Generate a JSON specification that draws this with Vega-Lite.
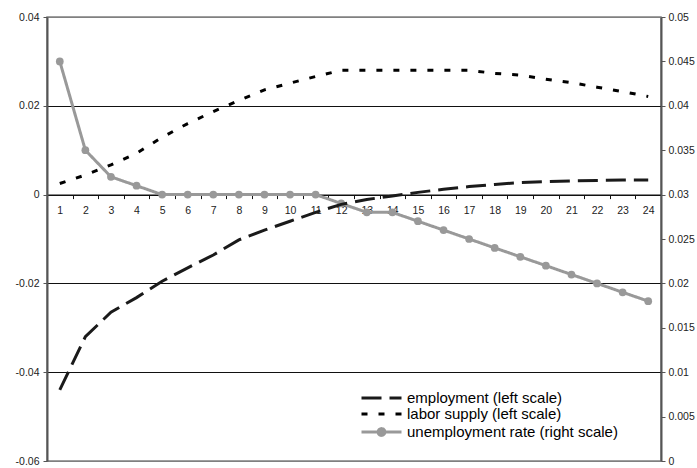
{
  "$schema": "https://vega.github.io/schema/vega-lite/v6.json",
  "autosize": "none",
  "width": 614,
  "height": 444,
  "padding": {"left": 47, "top": 17, "right": 36, "bottom": 7},
  "background": "white",
  "config": {
    "font": "Liberation Sans",
    "view": {"stroke": "#808080", "strokeWidth": 1.5},
    "axis": {"labelFont": "Liberation Sans", "labelColor": "#222", "labelFontSize": 10.5, "title": null},
    "legend": {
      "title": null, "orient": "none", "legendX": 326.5, "legendY": 373,
      "labelFontSize": 15, "labelColor": "#000", "labelFont": "Liberation Sans", "labelLimit": 0,
      "symbolSize": 169, "symbolStrokeWidth": 3, "labelOffset": 17.5, "rowPadding": 0, "padding": 0
    }
  },
  "datasets": {
    "left": [
      {"t": 1, "series": "employment (left scale)", "value": -0.044},
      {"t": 2, "series": "employment (left scale)", "value": -0.032},
      {"t": 3, "series": "employment (left scale)", "value": -0.0265},
      {"t": 4, "series": "employment (left scale)", "value": -0.0232},
      {"t": 5, "series": "employment (left scale)", "value": -0.0195},
      {"t": 6, "series": "employment (left scale)", "value": -0.0165},
      {"t": 7, "series": "employment (left scale)", "value": -0.0136},
      {"t": 8, "series": "employment (left scale)", "value": -0.0102},
      {"t": 9, "series": "employment (left scale)", "value": -0.008},
      {"t": 10, "series": "employment (left scale)", "value": -0.006},
      {"t": 11, "series": "employment (left scale)", "value": -0.004},
      {"t": 12, "series": "employment (left scale)", "value": -0.0022},
      {"t": 13, "series": "employment (left scale)", "value": -0.0011},
      {"t": 14, "series": "employment (left scale)", "value": -0.0003},
      {"t": 15, "series": "employment (left scale)", "value": 0.0005},
      {"t": 16, "series": "employment (left scale)", "value": 0.0012},
      {"t": 17, "series": "employment (left scale)", "value": 0.0018},
      {"t": 18, "series": "employment (left scale)", "value": 0.0023},
      {"t": 19, "series": "employment (left scale)", "value": 0.0027},
      {"t": 20, "series": "employment (left scale)", "value": 0.0029},
      {"t": 21, "series": "employment (left scale)", "value": 0.0031},
      {"t": 22, "series": "employment (left scale)", "value": 0.0032},
      {"t": 23, "series": "employment (left scale)", "value": 0.0033},
      {"t": 24, "series": "employment (left scale)", "value": 0.0033},
      {"t": 1, "series": "labor supply (left scale)", "value": 0.0025},
      {"t": 2, "series": "labor supply (left scale)", "value": 0.0044},
      {"t": 3, "series": "labor supply (left scale)", "value": 0.0067},
      {"t": 4, "series": "labor supply (left scale)", "value": 0.0093},
      {"t": 5, "series": "labor supply (left scale)", "value": 0.0129},
      {"t": 6, "series": "labor supply (left scale)", "value": 0.016},
      {"t": 7, "series": "labor supply (left scale)", "value": 0.0187},
      {"t": 8, "series": "labor supply (left scale)", "value": 0.0212},
      {"t": 9, "series": "labor supply (left scale)", "value": 0.0236},
      {"t": 10, "series": "labor supply (left scale)", "value": 0.0251},
      {"t": 11, "series": "labor supply (left scale)", "value": 0.0266},
      {"t": 12, "series": "labor supply (left scale)", "value": 0.028},
      {"t": 13, "series": "labor supply (left scale)", "value": 0.028},
      {"t": 14, "series": "labor supply (left scale)", "value": 0.028},
      {"t": 15, "series": "labor supply (left scale)", "value": 0.028},
      {"t": 16, "series": "labor supply (left scale)", "value": 0.028},
      {"t": 17, "series": "labor supply (left scale)", "value": 0.028},
      {"t": 18, "series": "labor supply (left scale)", "value": 0.0273},
      {"t": 19, "series": "labor supply (left scale)", "value": 0.0269},
      {"t": 20, "series": "labor supply (left scale)", "value": 0.026},
      {"t": 21, "series": "labor supply (left scale)", "value": 0.0252},
      {"t": 22, "series": "labor supply (left scale)", "value": 0.0242},
      {"t": 23, "series": "labor supply (left scale)", "value": 0.0232},
      {"t": 24, "series": "labor supply (left scale)", "value": 0.0221}
    ],
    "right": [
      {"t": 1, "series": "unemployment rate (right scale)", "value": 0.045},
      {"t": 2, "series": "unemployment rate (right scale)", "value": 0.035},
      {"t": 3, "series": "unemployment rate (right scale)", "value": 0.032},
      {"t": 4, "series": "unemployment rate (right scale)", "value": 0.031},
      {"t": 5, "series": "unemployment rate (right scale)", "value": 0.03},
      {"t": 6, "series": "unemployment rate (right scale)", "value": 0.03},
      {"t": 7, "series": "unemployment rate (right scale)", "value": 0.03},
      {"t": 8, "series": "unemployment rate (right scale)", "value": 0.03},
      {"t": 9, "series": "unemployment rate (right scale)", "value": 0.03},
      {"t": 10, "series": "unemployment rate (right scale)", "value": 0.03},
      {"t": 11, "series": "unemployment rate (right scale)", "value": 0.03},
      {"t": 12, "series": "unemployment rate (right scale)", "value": 0.029},
      {"t": 13, "series": "unemployment rate (right scale)", "value": 0.028},
      {"t": 14, "series": "unemployment rate (right scale)", "value": 0.028},
      {"t": 15, "series": "unemployment rate (right scale)", "value": 0.027},
      {"t": 16, "series": "unemployment rate (right scale)", "value": 0.026},
      {"t": 17, "series": "unemployment rate (right scale)", "value": 0.025},
      {"t": 18, "series": "unemployment rate (right scale)", "value": 0.024},
      {"t": 19, "series": "unemployment rate (right scale)", "value": 0.023},
      {"t": 20, "series": "unemployment rate (right scale)", "value": 0.022},
      {"t": 21, "series": "unemployment rate (right scale)", "value": 0.021},
      {"t": 22, "series": "unemployment rate (right scale)", "value": 0.02},
      {"t": 23, "series": "unemployment rate (right scale)", "value": 0.019},
      {"t": 24, "series": "unemployment rate (right scale)", "value": 0.018}
    ]
  },
  "layer": [
    {
      "data": {"name": "right"},
      "encoding": {
        "x": {
          "field": "t", "type": "ordinal",
          "scale": {"type": "band", "paddingInner": 0, "paddingOuter": 0},
          "axis": {"orient": "bottom", "offset": -266.4, "labelAngle": 0, "tickBand": "extent", "tickSize": 4, "labelPadding": 7, "domainColor": "#111", "domainWidth": 1.2, "tickColor": "#111", "grid": false}
        },
        "y": {
          "field": "value", "type": "quantitative",
          "scale": {"domain": [0, 0.05], "nice": false, "zero": false},
          "axis": {"orient": "right", "values": [0, 0.005, 0.01, 0.015, 0.02, 0.025, 0.03, 0.035, 0.04, 0.045, 0.05], "labelExpr": "'' + datum.value", "grid": false, "domainColor": "#555", "domainWidth": 2, "tickColor": "#555", "tickSize": 4, "labelPadding": 3}
        }
      },
      "layer": [
        {
          "mark": {"type": "line", "strokeWidth": 3},
          "encoding": {
            "color": {
              "field": "series", "type": "nominal",
              "scale": {"domain": ["employment (left scale)", "labor supply (left scale)", "unemployment rate (right scale)"], "range": ["#1a1a1a", "#000000", "#999999"]},
              "legend": {
                "encode": {"symbols": {"update": {
                  "shape": {"signal": "datum.value === 'unemployment rate (right scale)' ? 'M-3.077,0L3.077,0M0.52,0A0.52,0.52,0,1,1,-0.52,0A0.52,0.52,0,1,1,0.52,0Z' : 'M-3.077,0L3.077,0'"},
                  "fill": {"signal": "datum.value === 'unemployment rate (right scale)' ? '#999999' : 'transparent'"},
                  "strokeDash": {"signal": "datum.value === 'employment (left scale)' ? '22,12,2,40' : datum.value === 'labor supply (left scale)' ? '6,11' : '1,0'"}
                }}}
              }
            },
            "strokeDash": {
              "field": "series", "type": "nominal",
              "scale": {"domain": ["employment (left scale)", "labor supply (left scale)", "unemployment rate (right scale)"], "range": [[20, 8], [6, 11], [1, 0]]},
              "legend": {
                "encode": {"symbols": {"update": {
                  "shape": {"signal": "datum.value === 'unemployment rate (right scale)' ? 'M-3.077,0L3.077,0M0.52,0A0.52,0.52,0,1,1,-0.52,0A0.52,0.52,0,1,1,0.52,0Z' : 'M-3.077,0L3.077,0'"},
                  "fill": {"signal": "datum.value === 'unemployment rate (right scale)' ? '#999999' : 'transparent'"},
                  "strokeDash": {"signal": "datum.value === 'employment (left scale)' ? '22,12,2,40' : datum.value === 'labor supply (left scale)' ? '6,11' : '1,0'"}
                }}}
              }
            }
          }
        },
        {
          "mark": {"type": "point", "filled": true, "size": 60, "color": "#999999", "opacity": 1},
          "encoding": {}
        }
      ]
    },
    {
      "data": {"name": "left"},
      "encoding": {
        "x": {
          "field": "t", "type": "ordinal",
          "scale": {"type": "band", "paddingInner": 0, "paddingOuter": 0},
          "axis": {"orient": "bottom", "offset": -266.4, "labelAngle": 0, "tickBand": "extent", "tickSize": 4, "labelPadding": 7, "domainColor": "#111", "domainWidth": 1.2, "tickColor": "#111", "grid": false}
        },
        "y": {
          "field": "value", "type": "quantitative",
          "scale": {"domain": [-0.06, 0.04], "nice": false, "zero": false},
          "axis": {
            "orient": "left", "values": [-0.06, -0.04, -0.02, 0, 0.02, 0.04], "labelExpr": "'' + datum.value",
            "grid": true,
            "gridColor": {"condition": {"test": "datum.value === 0.04 || datum.value === -0.06", "value": "#808080"}, "value": "#111"},
            "gridWidth": 1, "gridOpacity": 1, "domainColor": "#555", "domainWidth": 2, "tickColor": "#555", "tickSize": 4, "labelPadding": 4
          }
        }
      },
      "layer": [
        {
          "mark": {"type": "line", "strokeWidth": 3},
          "encoding": {
            "color": {
              "field": "series", "type": "nominal",
              "scale": {"domain": ["employment (left scale)", "labor supply (left scale)", "unemployment rate (right scale)"], "range": ["#1a1a1a", "#000000", "#999999"]},
              "legend": {
                "encode": {"symbols": {"update": {
                  "shape": {"signal": "datum.value === 'unemployment rate (right scale)' ? 'M-3.077,0L3.077,0M0.52,0A0.52,0.52,0,1,1,-0.52,0A0.52,0.52,0,1,1,0.52,0Z' : 'M-3.077,0L3.077,0'"},
                  "fill": {"signal": "datum.value === 'unemployment rate (right scale)' ? '#999999' : 'transparent'"},
                  "strokeDash": {"signal": "datum.value === 'employment (left scale)' ? '22,12,2,40' : datum.value === 'labor supply (left scale)' ? '6,11' : '1,0'"}
                }}}
              }
            },
            "strokeDash": {
              "field": "series", "type": "nominal",
              "scale": {"domain": ["employment (left scale)", "labor supply (left scale)", "unemployment rate (right scale)"], "range": [[20, 8], [6, 11], [1, 0]]},
              "legend": {
                "encode": {"symbols": {"update": {
                  "shape": {"signal": "datum.value === 'unemployment rate (right scale)' ? 'M-3.077,0L3.077,0M0.52,0A0.52,0.52,0,1,1,-0.52,0A0.52,0.52,0,1,1,0.52,0Z' : 'M-3.077,0L3.077,0'"},
                  "fill": {"signal": "datum.value === 'unemployment rate (right scale)' ? '#999999' : 'transparent'"},
                  "strokeDash": {"signal": "datum.value === 'employment (left scale)' ? '22,12,2,40' : datum.value === 'labor supply (left scale)' ? '6,11' : '1,0'"}
                }}}
              }
            }
          }
        }
      ]
    }
  ],
  "resolve": {"scale": {"y": "independent"}, "axis": {"y": "independent"}}
}
